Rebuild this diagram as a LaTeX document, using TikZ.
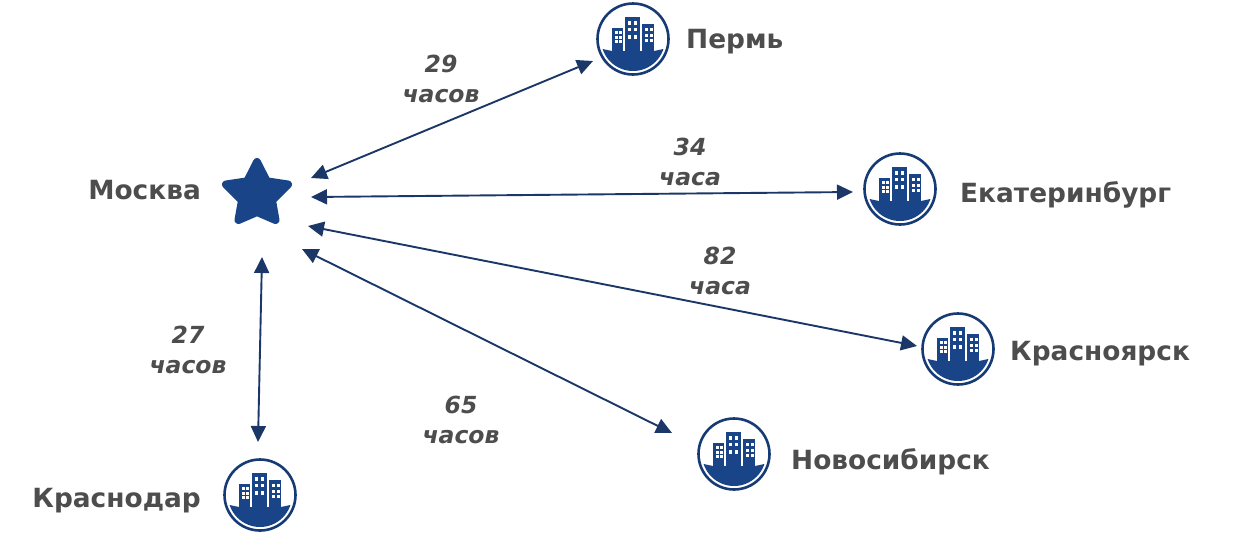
\documentclass[tikz,border=0pt]{standalone}
\usepackage{fontspec}
\setmainfont{DejaVu Sans}
\usetikzlibrary{arrows.meta}
\definecolor{navy}{HTML}{1A4488}
\definecolor{arrowblue}{HTML}{1B3768}
\definecolor{txt}{HTML}{4D4D4D}
\tikzset{
  x=1pt,y=-1pt,
  city/.style={font=\fontsize{26.4}{26}\selectfont\bfseries,text=txt,inner sep=0pt},
  hours/.style={font=\fontsize{23.5}{30}\selectfont\bfseries\itshape,text=txt,inner sep=0pt,align=center},
  link/.style={draw=arrowblue,line width=1.9pt,{Triangle[length=16pt,width=15pt]}-{Triangle[length=16pt,width=15pt]}},
  icon/.style={circle,draw=navy!85!black,line width=2.6pt,minimum size=71pt,inner sep=0pt,fill=white},
  star/.style={fill=navy,draw=navy,line width=8pt,line join=round},
  icon art/.pic={
    \begin{scope}
      \clip (0,0) circle[radius=32];
      \fill[navy] (-35,9) -- (-21,12) -- (21,12) -- (35,9) -- (35,40) -- (-35,40) -- cycle;
    \end{scope}
    \fill[navy] (-21,-11.5) rectangle (-10,13);
    \fill[navy] (-8.5,-22) rectangle (6.5,13);
    \fill[navy] (8.5,-15) rectangle (20.5,13);
    \foreach \wx in {-18.5,-14} \foreach \wy in {-8,-3.5,1}
      \fill[white] (\wx,\wy) rectangle +(3,3);
    \foreach \wx in {-5.5,0.5} \foreach \wy in {-18,-11.5,-4}
      \fill[white] (\wx,\wy) rectangle +(3.4,3.6);
    \foreach \wx in {11.5,16.5} \foreach \wy in {-11,-5.5,0}
      \fill[white] (\wx,\wy) rectangle +(3,3.2);
  }
}
\begin{document}
\begin{tikzpicture}
\useasboundingbox (0,0) rectangle (1236,539);
\fill[white] (0,0) rectangle (1236,539);
% icons
\node[icon] (perm) at (633,39) {};
\node[icon] (ekb) at (900,189) {};
\node[icon] (krsk) at (958,349) {};
\node[icon] (nsk) at (734,454) {};
\node[icon] (krd) at (260,495) {};
\foreach \n in {perm,ekb,krsk,nsk,krd} \pic at (\n) {icon art};
% star
\coordinate (msk) at (257,195);
\draw[star] (257,162) -- (266.7,181.3) -- (288,184.5) -- (272,200.4) -- (275.5,220) -- (257,212) -- (238.5,220) -- (242,200.4) -- (226,184.5) -- (247.3,181.3) -- cycle;
% labels
\node[city,anchor=west] (lperm) at (686,41.5) {Пермь};
\node[city,anchor=west] (lekb) at (960,195) {Екатеринбург};
\node[city,anchor=west] (lkrsk) at (1010,354) {Красноярск};
\node[city,anchor=west] (lnsk) at (791,462) {Новосибирск};
\node[city,anchor=east] (lkrd) at (201,501) {Краснодар};
\node[city,anchor=east] (lmsk) at (201,190.5) {Москва};
\node[hours] (h1) at (441,79) {29\\часов};
\node[hours] (h2) at (690,162) {34\\часа};
\node[hours] (h3) at (720,271) {82\\часа};
\node[hours] (h4) at (188,350) {27\\часов};
\node[hours] (h5) at (461,420) {65\\часов};
% connector ends
\coordinate (a1) at (311,178); \coordinate (b1) at (593,61);
\coordinate (a2) at (311,197); \coordinate (b2) at (853,192);
\coordinate (a3) at (308,226); \coordinate (b3) at (917,346);
\coordinate (a4) at (302,249); \coordinate (b4) at (672,433);
\coordinate (a5) at (262,257); \coordinate (b5) at (258,442);
\foreach \k in {1,...,5} \draw[link] (a\k) -- (b\k);
\end{tikzpicture}
\end{document}
